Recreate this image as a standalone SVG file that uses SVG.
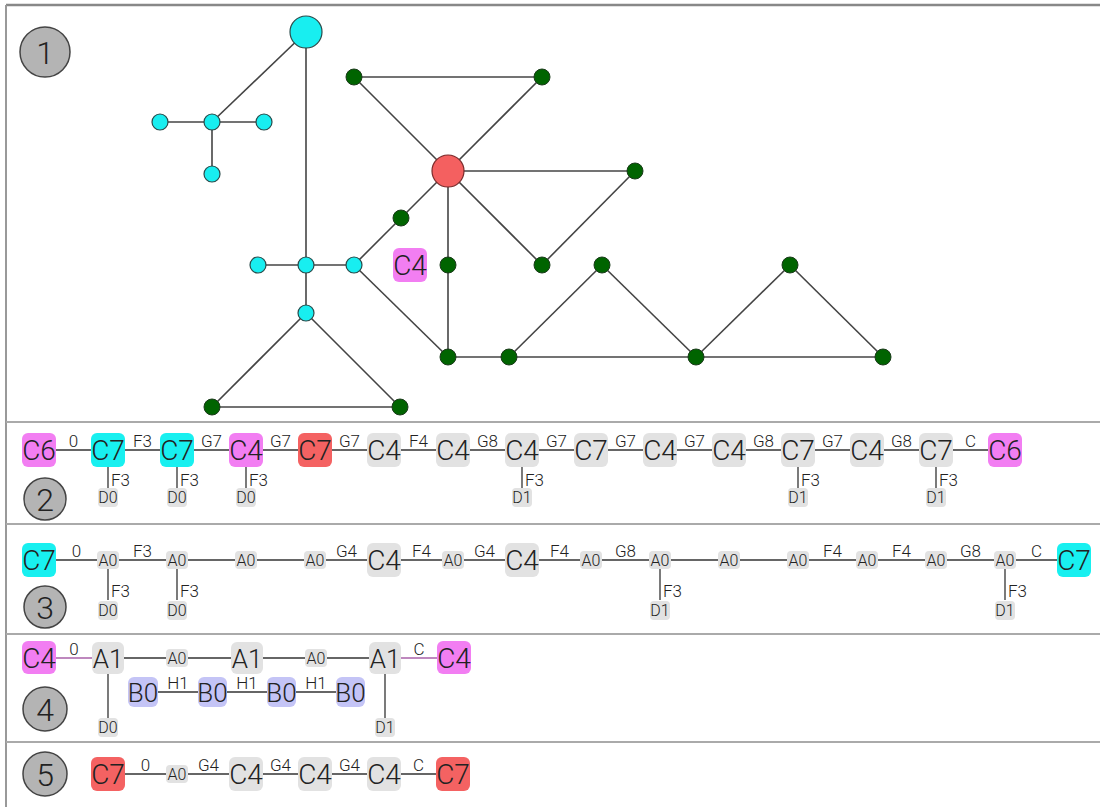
<svg xmlns="http://www.w3.org/2000/svg" width="1100" height="807" viewBox="0 0 1100 807">
<style>
text{font-family:Roboto,"DejaVu Sans",sans-serif;font-weight:300;fill:#222}
.tb{font-size:28px;text-anchor:middle}
.ts{font-size:16px;text-anchor:middle}
.el{font-size:17px;text-anchor:middle}
.fl{font-size:17px;text-anchor:start}
.num{font-size:32px;text-anchor:middle}
.mg{fill:#f27ef2}.cy{fill:#18f0f0}.rd{fill:#f46262}.gr{fill:#e2e2e2}.lv{fill:#c4c4f6}
.e{stroke:#333;stroke-width:1.3;fill:none}
.ep{stroke:#a860a8;stroke-width:1.3;fill:none}
.g1{stroke:#444;stroke-width:1.6;fill:none}
.gn{fill:#006400;stroke:#1a3a1a;stroke-width:1}
.cn{fill:#18eef0;stroke:#2a4a4a;stroke-width:1.2}
.rn{fill:#f46060;stroke:#7a2a2a;stroke-width:1.2}
.badge{fill:#b4b4b4;stroke:#444;stroke-width:1.5}
.sep{stroke:#aaa;stroke-width:2}
</style>
<rect x="0" y="0" width="1100" height="807" fill="#fff"/>
<g id="frame">
<line x1="6" y1="5" x2="1100" y2="5" stroke="#888" stroke-width="2.5"/>
<line x1="6" y1="5" x2="6" y2="807" stroke="#999" stroke-width="2"/>
<line class="sep" x1="6" y1="422" x2="1100" y2="422"/>
<line class="sep" x1="6" y1="524" x2="1100" y2="524"/>
<line class="sep" x1="6" y1="634" x2="1100" y2="634"/>
<line class="sep" x1="6" y1="742" x2="1100" y2="742"/>
</g>
<g id="badges">
<circle class="badge" cx="45" cy="52" r="25"/><text class="num" x="45" y="64">1</text>
<circle class="badge" cx="45" cy="499" r="21"/><text class="num" x="45" y="511">2</text>
<circle class="badge" cx="45" cy="607" r="21"/><text class="num" x="45" y="619">3</text>
<circle class="badge" cx="45" cy="709" r="22"/><text class="num" x="45" y="721">4</text>
<circle class="badge" cx="45" cy="774" r="22"/><text class="num" x="45" y="786">5</text>
</g>
<!-- Panel 1 -->
<g id="connectors-p1">
<line class="g1" x1="306" y1="32" x2="212" y2="122"/>
<line class="g1" x1="306" y1="32" x2="306" y2="265"/>
<line class="g1" x1="160" y1="122" x2="264" y2="122"/>
<line class="g1" x1="212" y1="122" x2="212" y2="174"/>
<line class="g1" x1="258" y1="265" x2="354" y2="265"/>
<line class="g1" x1="306" y1="265" x2="306" y2="313"/>
<line class="g1" x1="306" y1="313" x2="212" y2="407"/>
<line class="g1" x1="306" y1="313" x2="400" y2="407"/>
<line class="g1" x1="212" y1="407" x2="400" y2="407"/>
<line class="g1" x1="354" y1="265" x2="401" y2="218"/>
<line class="g1" x1="401" y1="218" x2="448" y2="171"/>
<line class="g1" x1="354" y1="265" x2="448" y2="357"/>
<line class="g1" x1="354" y1="77" x2="542" y2="77"/>
<line class="g1" x1="354" y1="77" x2="448" y2="171"/>
<line class="g1" x1="542" y1="77" x2="448" y2="171"/>
<line class="g1" x1="448" y1="171" x2="635" y2="171"/>
<line class="g1" x1="448" y1="171" x2="542" y2="265"/>
<line class="g1" x1="635" y1="171" x2="542" y2="265"/>
<line class="g1" x1="448" y1="171" x2="448" y2="357"/>
<line class="g1" x1="448" y1="357" x2="509" y2="357"/>
<line class="g1" x1="509" y1="357" x2="883" y2="357"/>
<line class="g1" x1="509" y1="357" x2="602" y2="265"/>
<line class="g1" x1="602" y1="265" x2="696" y2="357"/>
<line class="g1" x1="696" y1="357" x2="790" y2="265"/>
<line class="g1" x1="790" y1="265" x2="883" y2="357"/>
</g>
<g id="nodes-p1">
<circle id="n-c0" class="cn" cx="306" cy="32" r="16"/>
<circle id="n-c1" class="cn" cx="212" cy="122" r="8"/>
<circle id="n-c2" class="cn" cx="160" cy="122" r="8"/>
<circle id="n-c3" class="cn" cx="264" cy="122" r="8"/>
<circle id="n-c4" class="cn" cx="212" cy="174" r="8"/>
<circle id="n-c5" class="cn" cx="258" cy="265" r="8"/>
<circle id="n-c6" class="cn" cx="306" cy="265" r="8"/>
<circle id="n-c7" class="cn" cx="354" cy="265" r="8"/>
<circle id="n-c8" class="cn" cx="306" cy="313" r="8"/>
<circle id="n-red" class="rn" cx="448" cy="171" r="16"/>
<circle id="n-g1" class="gn" cx="354" cy="77" r="8"/>
<circle id="n-g2" class="gn" cx="542" cy="77" r="8"/>
<circle id="n-g3" class="gn" cx="635" cy="171" r="8"/>
<circle id="n-g4" class="gn" cx="401" cy="218" r="8"/>
<circle id="n-g5" class="gn" cx="448" cy="265" r="8"/>
<circle id="n-g6" class="gn" cx="542" cy="265" r="8"/>
<circle id="n-g7" class="gn" cx="602" cy="265" r="8"/>
<circle id="n-g8" class="gn" cx="790" cy="265" r="8"/>
<circle id="n-g9" class="gn" cx="448" cy="357" r="8"/>
<circle id="n-g10" class="gn" cx="509" cy="357" r="8"/>
<circle id="n-g11" class="gn" cx="696" cy="357" r="8"/>
<circle id="n-g12" class="gn" cx="883" cy="357" r="8"/>
<circle id="n-g13" class="gn" cx="212" cy="407" r="8"/>
<circle id="n-g14" class="gn" cx="400" cy="407" r="8"/>
<g id="lbl-c4"><rect class="mg" x="393" y="248" width="34" height="34" rx="6"/><text class="tb" x="410" y="275">C4</text></g>
</g>
<!-- Panel 2 -->
<g id="connectors-p2">
<line class="e" x1="56" y1="450" x2="91" y2="450"/><text class="el" x="73.5" y="447">0</text>
<line class="e" x1="125" y1="450" x2="160" y2="450"/><text class="el" x="142.5" y="447">F3</text>
<line class="e" x1="194" y1="450" x2="229" y2="450"/><text class="el" x="211.5" y="447">G7</text>
<line class="e" x1="263" y1="450" x2="298" y2="450"/><text class="el" x="280.5" y="447">G7</text>
<line class="e" x1="332" y1="450" x2="367" y2="450"/><text class="el" x="349.5" y="447">G7</text>
<line class="e" x1="401" y1="450" x2="436" y2="450"/><text class="el" x="418.5" y="447">F4</text>
<line class="e" x1="470" y1="450" x2="505" y2="450"/><text class="el" x="487.5" y="447">G8</text>
<line class="e" x1="539" y1="450" x2="574" y2="450"/><text class="el" x="556.5" y="447">G7</text>
<line class="e" x1="608" y1="450" x2="643" y2="450"/><text class="el" x="625.5" y="447">G7</text>
<line class="e" x1="677" y1="450" x2="712" y2="450"/><text class="el" x="694.5" y="447">G7</text>
<line class="e" x1="746" y1="450" x2="781" y2="450"/><text class="el" x="763.5" y="447">G8</text>
<line class="e" x1="815" y1="450" x2="850" y2="450"/><text class="el" x="832.5" y="447">G7</text>
<line class="e" x1="884" y1="450" x2="919" y2="450"/><text class="el" x="901.5" y="447">G8</text>
<line class="e" x1="953" y1="450" x2="988" y2="450"/><text class="el" x="970.5" y="447">C</text>
<line class="e" x1="108" y1="467" x2="108" y2="488"/><text class="fl" x="111" y="486">F3</text>
<line class="e" x1="177" y1="467" x2="177" y2="488"/><text class="fl" x="180" y="486">F3</text>
<line class="e" x1="246" y1="467" x2="246" y2="488"/><text class="fl" x="249" y="486">F3</text>
<line class="e" x1="522" y1="467" x2="522" y2="488"/><text class="fl" x="525" y="486">F3</text>
<line class="e" x1="798" y1="467" x2="798" y2="488"/><text class="fl" x="801" y="486">F3</text>
<line class="e" x1="936" y1="467" x2="936" y2="488"/><text class="fl" x="939" y="486">F3</text>
</g>
<g id="nodes-p2">
<g id="p2n0"><rect class="mg" x="22" y="433" width="34" height="34" rx="6"/><text class="tb" x="39" y="460">C6</text></g>
<g id="p2n1"><rect class="cy" x="91" y="433" width="34" height="34" rx="6"/><text class="tb" x="108" y="460">C7</text></g>
<g id="p2n2"><rect class="cy" x="160" y="433" width="34" height="34" rx="6"/><text class="tb" x="177" y="460">C7</text></g>
<g id="p2n3"><rect class="mg" x="229" y="433" width="34" height="34" rx="6"/><text class="tb" x="246" y="460">C4</text></g>
<g id="p2n4"><rect class="rd" x="298" y="433" width="34" height="34" rx="6"/><text class="tb" x="315" y="460">C7</text></g>
<g id="p2n5"><rect class="gr" x="367" y="433" width="34" height="34" rx="6"/><text class="tb" x="384" y="460">C4</text></g>
<g id="p2n6"><rect class="gr" x="436" y="433" width="34" height="34" rx="6"/><text class="tb" x="453" y="460">C4</text></g>
<g id="p2n7"><rect class="gr" x="505" y="433" width="34" height="34" rx="6"/><text class="tb" x="522" y="460">C4</text></g>
<g id="p2n8"><rect class="gr" x="574" y="433" width="34" height="34" rx="6"/><text class="tb" x="591" y="460">C7</text></g>
<g id="p2n9"><rect class="gr" x="643" y="433" width="34" height="34" rx="6"/><text class="tb" x="660" y="460">C4</text></g>
<g id="p2n10"><rect class="gr" x="712" y="433" width="34" height="34" rx="6"/><text class="tb" x="729" y="460">C4</text></g>
<g id="p2n11"><rect class="gr" x="781" y="433" width="34" height="34" rx="6"/><text class="tb" x="798" y="460">C7</text></g>
<g id="p2n12"><rect class="gr" x="850" y="433" width="34" height="34" rx="6"/><text class="tb" x="867" y="460">C4</text></g>
<g id="p2n13"><rect class="gr" x="919" y="433" width="34" height="34" rx="6"/><text class="tb" x="936" y="460">C7</text></g>
<g id="p2n14"><rect class="mg" x="988" y="433" width="34" height="34" rx="6"/><text class="tb" x="1005" y="460">C6</text></g>
<g id="p2d0"><rect class="gr" x="98" y="488" width="20" height="19" rx="4"/><text class="ts" x="108" y="503">D0</text></g>
<g id="p2d1"><rect class="gr" x="167" y="488" width="20" height="19" rx="4"/><text class="ts" x="177" y="503">D0</text></g>
<g id="p2d2"><rect class="gr" x="236" y="488" width="20" height="19" rx="4"/><text class="ts" x="246" y="503">D0</text></g>
<g id="p2d3"><rect class="gr" x="512" y="488" width="20" height="19" rx="4"/><text class="ts" x="522" y="503">D1</text></g>
<g id="p2d4"><rect class="gr" x="788" y="488" width="20" height="19" rx="4"/><text class="ts" x="798" y="503">D1</text></g>
<g id="p2d5"><rect class="gr" x="926" y="488" width="20" height="19" rx="4"/><text class="ts" x="936" y="503">D1</text></g>
</g>
<!-- Panel 3 -->
<g id="connectors-p3">
<line class="e" x1="56" y1="560" x2="97" y2="560"/><text class="el" x="76.5" y="557">0</text>
<line class="e" x1="119" y1="560" x2="166" y2="560"/><text class="el" x="142.5" y="557">F3</text>
<line class="e" x1="188" y1="560" x2="235" y2="560"/>
<line class="e" x1="257" y1="560" x2="304" y2="560"/>
<line class="e" x1="326" y1="560" x2="367" y2="560"/><text class="el" x="346.5" y="557">G4</text>
<line class="e" x1="401" y1="560" x2="442" y2="560"/><text class="el" x="421.5" y="557">F4</text>
<line class="e" x1="464" y1="560" x2="505" y2="560"/><text class="el" x="484.5" y="557">G4</text>
<line class="e" x1="539" y1="560" x2="580" y2="560"/><text class="el" x="559.5" y="557">F4</text>
<line class="e" x1="602" y1="560" x2="649" y2="560"/><text class="el" x="625.5" y="557">G8</text>
<line class="e" x1="671" y1="560" x2="718" y2="560"/>
<line class="e" x1="740" y1="560" x2="787" y2="560"/>
<line class="e" x1="809" y1="560" x2="856" y2="560"/><text class="el" x="832.5" y="557">F4</text>
<line class="e" x1="878" y1="560" x2="925" y2="560"/><text class="el" x="901.5" y="557">F4</text>
<line class="e" x1="947" y1="560" x2="994" y2="560"/><text class="el" x="970.5" y="557">G8</text>
<line class="e" x1="1016" y1="560" x2="1057" y2="560"/><text class="el" x="1036.5" y="557">C</text>
<line class="e" x1="108" y1="569" x2="108" y2="600"/><text class="fl" x="111" y="597">F3</text>
<line class="e" x1="177" y1="569" x2="177" y2="600"/><text class="fl" x="180" y="597">F3</text>
<line class="e" x1="660" y1="569" x2="660" y2="600"/><text class="fl" x="663" y="597">F3</text>
<line class="e" x1="1005" y1="569" x2="1005" y2="600"/><text class="fl" x="1008" y="597">F3</text>
</g>
<g id="nodes-p3">
<g id="p3n0"><rect class="cy" x="22" y="543" width="34" height="34" rx="6"/><text class="tb" x="39" y="570">C7</text></g>
<g id="p3n1"><rect class="gr" x="97" y="551" width="22" height="18" rx="4"/><text class="ts" x="108" y="566">A0</text></g>
<g id="p3n2"><rect class="gr" x="166" y="551" width="22" height="18" rx="4"/><text class="ts" x="177" y="566">A0</text></g>
<g id="p3n3"><rect class="gr" x="235" y="551" width="22" height="18" rx="4"/><text class="ts" x="246" y="566">A0</text></g>
<g id="p3n4"><rect class="gr" x="304" y="551" width="22" height="18" rx="4"/><text class="ts" x="315" y="566">A0</text></g>
<g id="p3n5"><rect class="gr" x="367" y="543" width="34" height="34" rx="6"/><text class="tb" x="384" y="570">C4</text></g>
<g id="p3n6"><rect class="gr" x="442" y="551" width="22" height="18" rx="4"/><text class="ts" x="453" y="566">A0</text></g>
<g id="p3n7"><rect class="gr" x="505" y="543" width="34" height="34" rx="6"/><text class="tb" x="522" y="570">C4</text></g>
<g id="p3n8"><rect class="gr" x="580" y="551" width="22" height="18" rx="4"/><text class="ts" x="591" y="566">A0</text></g>
<g id="p3n9"><rect class="gr" x="649" y="551" width="22" height="18" rx="4"/><text class="ts" x="660" y="566">A0</text></g>
<g id="p3n10"><rect class="gr" x="718" y="551" width="22" height="18" rx="4"/><text class="ts" x="729" y="566">A0</text></g>
<g id="p3n11"><rect class="gr" x="787" y="551" width="22" height="18" rx="4"/><text class="ts" x="798" y="566">A0</text></g>
<g id="p3n12"><rect class="gr" x="856" y="551" width="22" height="18" rx="4"/><text class="ts" x="867" y="566">A0</text></g>
<g id="p3n13"><rect class="gr" x="925" y="551" width="22" height="18" rx="4"/><text class="ts" x="936" y="566">A0</text></g>
<g id="p3n14"><rect class="gr" x="994" y="551" width="22" height="18" rx="4"/><text class="ts" x="1005" y="566">A0</text></g>
<g id="p3n15"><rect class="cy" x="1057" y="543" width="34" height="34" rx="6"/><text class="tb" x="1074" y="570">C7</text></g>
<g id="p3d0"><rect class="gr" x="98" y="601" width="20" height="19" rx="4"/><text class="ts" x="108" y="616">D0</text></g>
<g id="p3d1"><rect class="gr" x="167" y="601" width="20" height="19" rx="4"/><text class="ts" x="177" y="616">D0</text></g>
<g id="p3d2"><rect class="gr" x="650" y="601" width="20" height="19" rx="4"/><text class="ts" x="660" y="616">D1</text></g>
<g id="p3d3"><rect class="gr" x="995" y="601" width="20" height="19" rx="4"/><text class="ts" x="1005" y="616">D1</text></g>
</g>
<!-- Panel 4 -->
<g id="connectors-p4">
<line class="ep" x1="56" y1="658" x2="92" y2="658"/><text class="el" x="74" y="655">0</text>
<line class="e" x1="124" y1="658" x2="166" y2="658"/>
<line class="e" x1="188" y1="658" x2="231" y2="658"/>
<line class="e" x1="263" y1="658" x2="305" y2="658"/>
<line class="e" x1="327" y1="658" x2="369" y2="658"/>
<line class="ep" x1="401" y1="658" x2="437" y2="658"/><text class="el" x="419" y="655">C</text>
<line class="e" x1="108" y1="674" x2="108" y2="718"/>
<line class="e" x1="385" y1="674" x2="385" y2="718"/>
<line class="e" x1="158" y1="692" x2="198" y2="692"/><text class="el" x="178" y="689">H1</text>
<line class="e" x1="227" y1="692" x2="267" y2="692"/><text class="el" x="247" y="689">H1</text>
<line class="e" x1="296" y1="692" x2="336" y2="692"/><text class="el" x="316" y="689">H1</text>
</g>
<g id="nodes-p4">
<g id="p4n0"><rect class="mg" x="22" y="641" width="34" height="33" rx="6"/><text class="tb" x="39" y="668">C4</text></g>
<g id="p4n1"><rect class="gr" x="92" y="642" width="32" height="32" rx="6"/><text class="tb" x="108" y="668" style="font-size:26px">A1</text></g>
<g id="p4n2"><rect class="gr" x="166" y="649" width="22" height="18" rx="4"/><text class="ts" x="177" y="664">A0</text></g>
<g id="p4n3"><rect class="gr" x="231" y="642" width="32" height="32" rx="6"/><text class="tb" x="247" y="668" style="font-size:26px">A1</text></g>
<g id="p4n4"><rect class="gr" x="305" y="649" width="22" height="18" rx="4"/><text class="ts" x="316" y="664">A0</text></g>
<g id="p4n5"><rect class="gr" x="369" y="642" width="32" height="32" rx="6"/><text class="tb" x="385" y="668" style="font-size:26px">A1</text></g>
<g id="p4n6"><rect class="mg" x="437" y="641" width="34" height="33" rx="6"/><text class="tb" x="454" y="668">C4</text></g>
<g id="p4b0"><rect class="lv" x="128" y="677" width="30" height="30" rx="6"/><text class="tb" x="143" y="702" style="font-size:26px">B0</text></g>
<g id="p4b1"><rect class="lv" x="198" y="677" width="29" height="30" rx="6"/><text class="tb" x="212.5" y="702" style="font-size:26px">B0</text></g>
<g id="p4b2"><rect class="lv" x="267" y="677" width="29" height="30" rx="6"/><text class="tb" x="281.5" y="702" style="font-size:26px">B0</text></g>
<g id="p4b3"><rect class="lv" x="336" y="677" width="29" height="30" rx="6"/><text class="tb" x="350.5" y="702" style="font-size:26px">B0</text></g>
<g id="p4d0"><rect class="gr" x="98" y="718" width="20" height="19" rx="4"/><text class="ts" x="108" y="733">D0</text></g>
<g id="p4d1"><rect class="gr" x="375" y="718" width="20" height="19" rx="4"/><text class="ts" x="385" y="733">D1</text></g>
</g>
<!-- Panel 5 -->
<g id="connectors-p5">
<line class="e" x1="125" y1="774" x2="166" y2="774"/><text class="el" x="145.5" y="771">0</text>
<line class="e" x1="188" y1="774" x2="229" y2="774"/><text class="el" x="208.5" y="771">G4</text>
<line class="e" x1="263" y1="774" x2="298" y2="774"/><text class="el" x="280.5" y="771">G4</text>
<line class="e" x1="332" y1="774" x2="367" y2="774"/><text class="el" x="349.5" y="771">G4</text>
<line class="e" x1="401" y1="774" x2="436" y2="774"/><text class="el" x="418.5" y="771">C</text>
</g>
<g id="nodes-p5">
<g id="p5n0"><rect class="rd" x="91" y="757" width="34" height="34" rx="6"/><text class="tb" x="108" y="784">C7</text></g>
<g id="p5n1"><rect class="gr" x="166" y="765" width="22" height="18" rx="4"/><text class="ts" x="177" y="780">A0</text></g>
<g id="p5n2"><rect class="gr" x="229" y="757" width="34" height="34" rx="6"/><text class="tb" x="246" y="784">C4</text></g>
<g id="p5n3"><rect class="gr" x="298" y="757" width="34" height="34" rx="6"/><text class="tb" x="315" y="784">C4</text></g>
<g id="p5n4"><rect class="gr" x="367" y="757" width="34" height="34" rx="6"/><text class="tb" x="384" y="784">C4</text></g>
<g id="p5n5"><rect class="rd" x="436" y="757" width="34" height="34" rx="6"/><text class="tb" x="453" y="784">C7</text></g>
</g>
</svg>
